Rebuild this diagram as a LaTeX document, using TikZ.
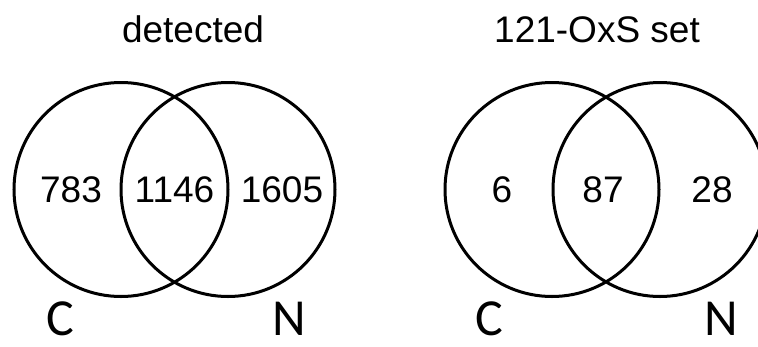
\documentclass[tikz,border=0pt]{standalone}
\usepackage{fontspec}
\setmainfont{Liberation Sans}
\newfontfamily\labelfont{Carlito}
\begin{document}
\begin{tikzpicture}[x=1pt,y=-1pt,
  setring/.style={draw=black, line width=3pt, circle, minimum size=214pt, inner sep=0pt},
  count/.style={inner sep=0pt, font=\fontsize{37}{42}\selectfont},
  heading/.style={inner sep=0pt, anchor=base, font=\fontsize{37}{42}\selectfont},
  setname/.style={inner sep=0pt, font=\labelfont\fontsize{52}{60}\selectfont}]
\useasboundingbox (0,0) rectangle (758,346);

% all detected proteins
\node[heading] (t1) at (193,42) {detected};
\node[setring] (c1) at (121,189.5) {};
\node[setring] (n1) at (228,189.5) {};
\node[count] (a1) at (71,190) {783};
\node[count] (b1) at (174.5,190) {1146};
\node[count] (d1) at (282,190) {1605};
\node[setname] (lc1) at (60,318.5) {C};
\node[setname] (ln1) at (289,318.5) {N};

% 121-OxS subset
\node[heading] (t2) at (597,42) {121-OxS set};
\node[setring] (c2) at (552,189.5) {};
\node[setring] (n2) at (660,189.5) {};
\node[count] (a2) at (502,190) {6};
\node[count] (b2) at (603,190) {87};
\node[count] (d2) at (712,190) {28};
\node[setname] (lc2) at (489,318.5) {C};
\node[setname] (ln2) at (721,318.5) {N};
\end{tikzpicture}
\end{document}
